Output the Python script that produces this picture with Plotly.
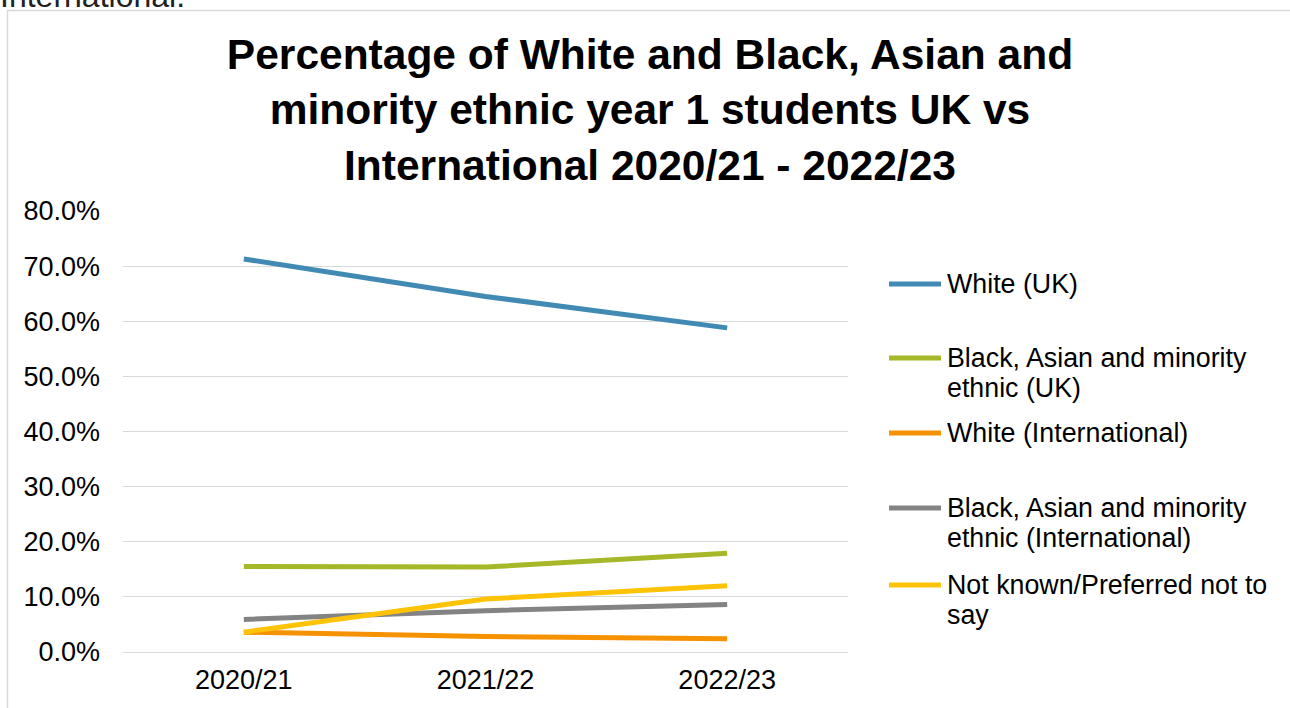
import plotly.graph_objects as go

years = ["2020/21", "2021/22", "2022/23"]
series_names = [
    "White (UK)",
    "Black, Asian and minority<br>ethnic (UK)",
    "White (International)",
    "Black, Asian and minority<br>ethnic (International)",
    "Not known/Preferred not to<br>say",
]
white_uk = [0.713, 0.645, 0.588]
bame_uk = [0.155, 0.154, 0.179]
white_int = [0.036, 0.028, 0.024]
bame_int = [0.059, 0.075, 0.086]
not_known = [0.036, 0.096, 0.120]
values = [white_uk, bame_uk, white_int, bame_int, not_known]
colors = ["#418AB3", "#A6B727", "#F69200", "#838383", "#FEC306"]
y_ticks = [0, 0.1, 0.2, 0.3, 0.4, 0.5, 0.6, 0.7, 0.8]

W, H = 1290, 708
L, R, T, B = 123, 848, 211, 652
FONT = "Liberation Sans, Arial, sans-serif"


def px_x(px):
    return (px - L) / (R - L)


def px_y(py):
    return (B - py) / (B - T)


fig = go.Figure()
for name, vals, col in zip(series_names, values, colors):
    fig.add_trace(go.Scatter(
        x=years, y=vals, mode="lines", name=name.replace("<br>", " "),
        line=dict(color=col, width=5), showlegend=False,
    ))

shapes = []
annotations = []
# chart border
shapes.append(dict(type="rect", xref="paper", yref="paper",
                   x0=px_x(7.5), x1=px_x(1310), y0=px_y(10.5), y1=px_y(730),
                   line=dict(color="#D9D9D9", width=1.5), fillcolor="rgba(0,0,0,0)",
                   layer="below"))

# manual legend (Excel style, symbol aligned with first line)
legend_y = [284, 358, 433, 508, 585]
for name, col, ly in zip(series_names, colors, legend_y):
    shapes.append(dict(type="line", xref="paper", yref="paper",
                       x0=px_x(889), x1=px_x(941), y0=px_y(ly), y1=px_y(ly),
                       line=dict(color=col, width=5)))
    for i, line in enumerate(name.split("<br>")):
        annotations.append(dict(xref="paper", yref="paper", x=px_x(945),
                                y=px_y(ly + 30 * i), xanchor="left", yanchor="middle",
                                text=line, showarrow=False,
                                font=dict(family=FONT, size=26.8, color="#000000")))

# cut-off preceding document text
annotations.append(dict(xref="paper", yref="paper", x=px_x(-2), y=px_y(16),
                        xanchor="left", yanchor="bottom", text="International.",
                        showarrow=False,
                        font=dict(family=FONT, size=32, color="#222222")))

fig.update_layout(
    width=W, height=H,
    margin=dict(l=L, r=W - R, t=T, b=H - B, pad=0),
    paper_bgcolor="white", plot_bgcolor="white",
    title=dict(
        text="<b>Percentage of White and Black, Asian and<br>minority ethnic year 1 students UK vs<br>International 2020/21 - 2022/23</b>",
        x=650 / W, xanchor="center", y=1 - 69 / H, yanchor="middle",
        font=dict(family=FONT, size=42.5, color="#000000"),
    ),
    xaxis=dict(
        type="category", range=[-0.5, 2.5], showgrid=False,
        showline=False, zeroline=False, ticks="",
        tickfont=dict(family=FONT, size=27, color="#000000"),
        ticklabelstandoff=9,
    ),
    yaxis=dict(
        range=[0, 0.8], tickvals=y_ticks, tickformat=".1%",
        showgrid=True, gridcolor="#D9D9D9", gridwidth=1.3,
        zeroline=True, zerolinecolor="#D9D9D9", zerolinewidth=1.3,
        showline=False, ticks="",
        tickfont=dict(family=FONT, size=27, color="#000000"),
        ticklabelstandoff=22,
    ),
    shapes=shapes, annotations=annotations,
)

fig.write_html("out.html")
